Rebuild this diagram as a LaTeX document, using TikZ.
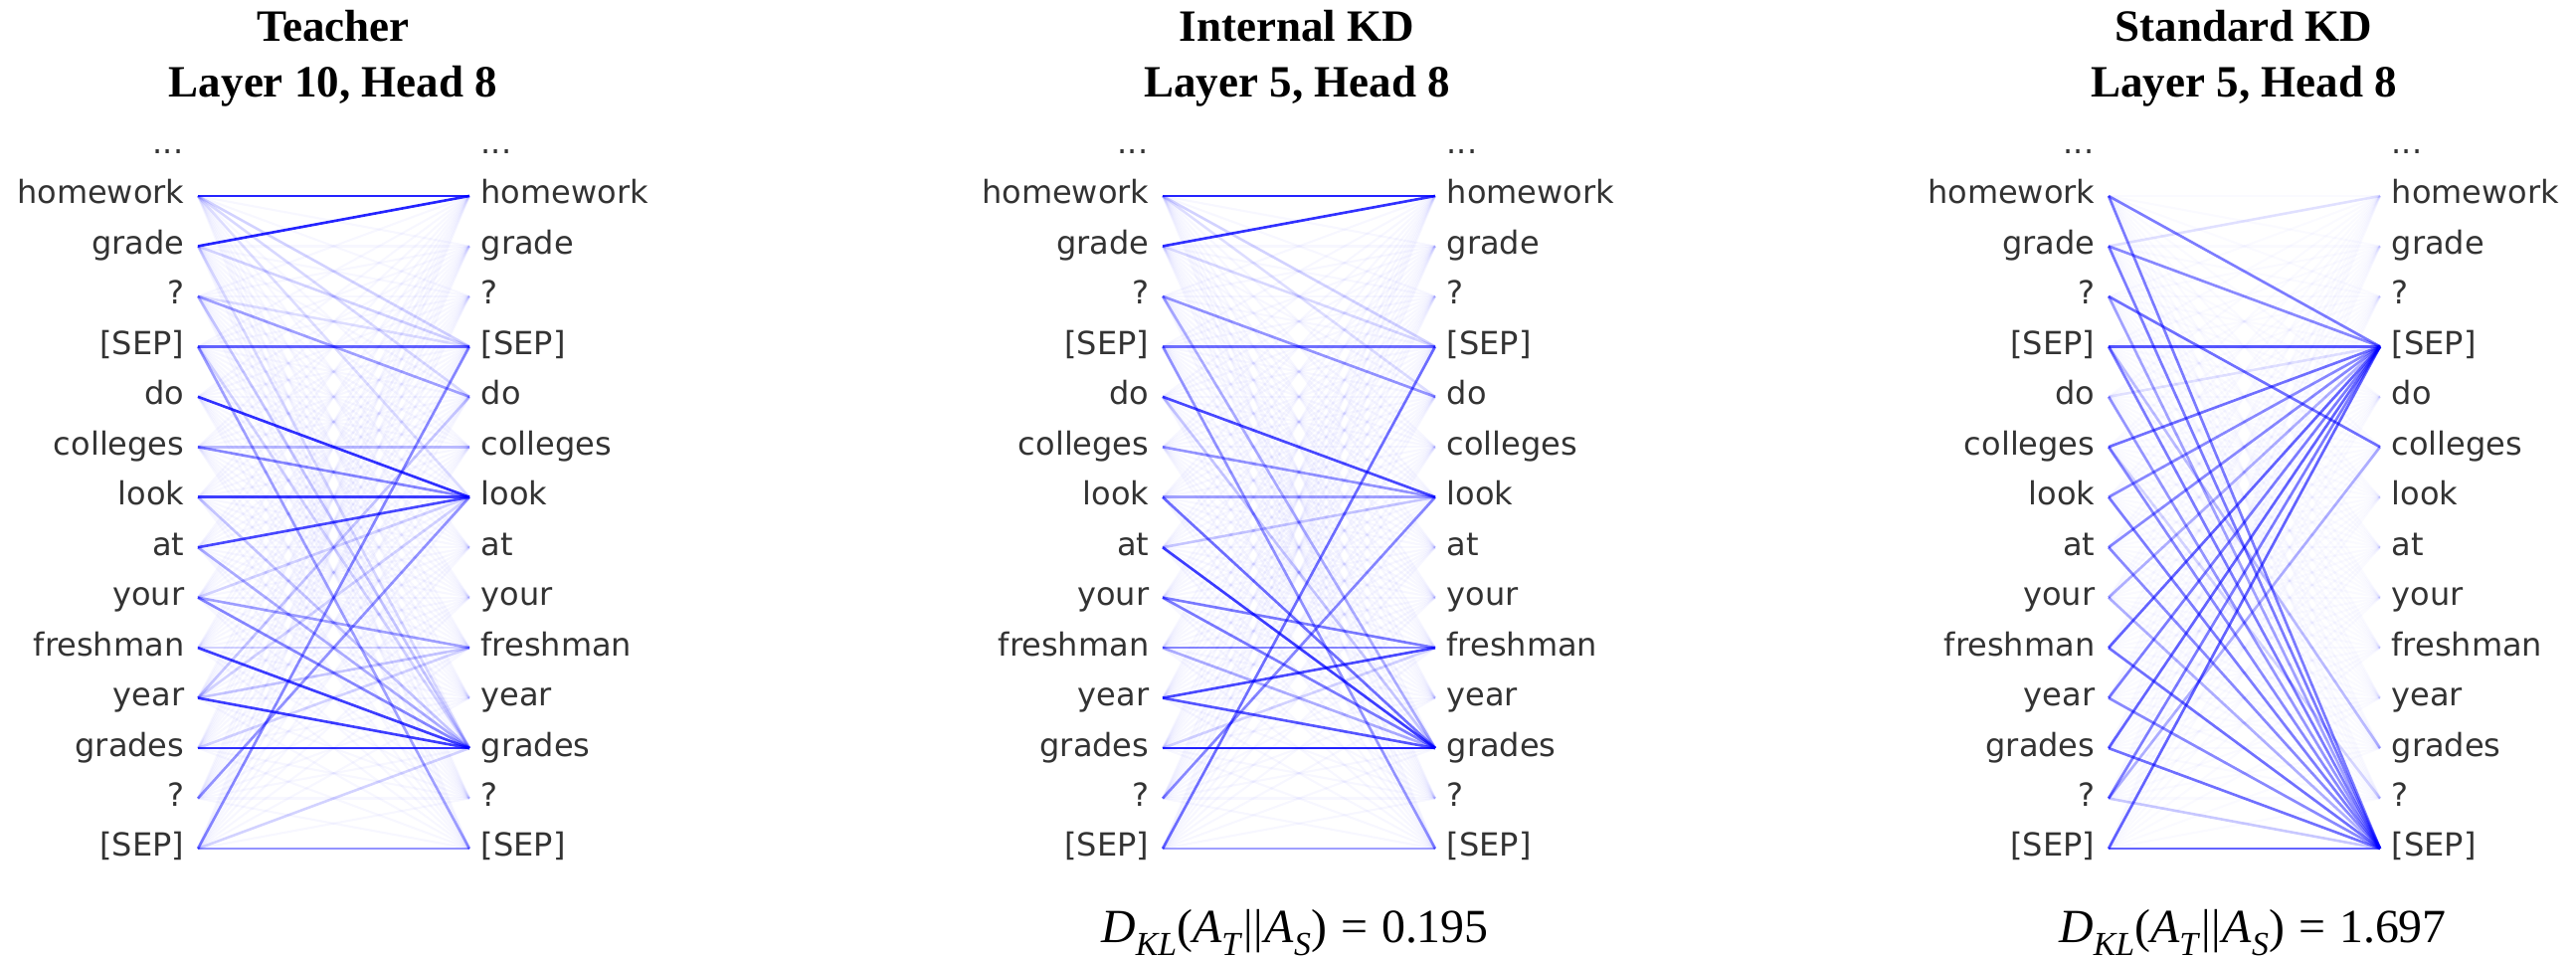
\documentclass[tikz,border=0pt]{standalone}
\usepackage{fontspec}
\setmainfont{Liberation Serif}
\newfontfamily\dejavu{DejaVu Sans}
\definecolor{labelgray}{RGB}{51,51,51}
\definecolor{attn}{RGB}{0,0,255}
\tikzset{
  tok/.style={font=\dejavu\fontsize{9.1}{11}\selectfont, text=labelgray, inner sep=0pt},
  ttl/.style={font=\fontsize{12.8}{15}\selectfont\bfseries, inner sep=0pt, anchor=base},
  kl/.style={font=\fontsize{13.6}{16}\selectfont, inner sep=0pt, anchor=base},
  att/.style={draw=attn, line width=0.75pt, draw opacity=#1},
  haze/.style={draw=attn, line width=0.6pt, draw opacity=#1},
}
\newcommand{\sbs}[1]{\raisebox{-0.28em}{\fontsize{9.6}{10}\selectfont\textit{#1}}}
\newcommand{\kld}[1]{\textit{D}\sbs{KL}(\textit{A}\sbs{T}\kern0.5pt||\kern0.5pt\textit{A}\sbs{S})\kern4pt=\kern4pt#1}
\begin{document}
\begin{tikzpicture}[x=0.01cm,y=-0.01cm]
\useasboundingbox (0,0) rectangle (2590,964);
\fill[white] (0,0) rectangle (2590,964);
% token columns
\foreach \p/\xs/\xe/\hz in {a/199/472/0.032, b/1169/1443/0.032, c/2120/2393/0.02} {
  \foreach \t [count=\i] in {homework,grade,?,{[SEP]},do,colleges,look,at,your,freshman,year,grades,?,{[SEP]}} {
    \pgfmathsetmacro\yy{197+(\i-1)*50.46}
    \coordinate (\p L\i) at (\xs,\yy);
    \coordinate (\p R\i) at (\xe,\yy);
    \node[tok, anchor=base east] (\p tl\i) at (\xs-13,\yy+8) {\t};
    \node[tok, anchor=base west] (\p tr\i) at (\xe+11,\yy+8) {\t};
  }
  \node[tok, anchor=base east] (\p dl) at (\xs-14,155) {...};
  \node[tok, anchor=base west] (\p dr) at (\xe+11,155) {...};
  \foreach \i in {1,...,14} {
    \foreach \j in {1,...,14} {
      \draw[haze=\hz] (\p L\i) -- (\p R\j);
    }
  }
}
% Teacher
\foreach \i/\j/\o in {1/1/0.85, 2/1/0.85, 1/4/0.15, 1/5/0.12, 1/7/0.1, 2/4/0.15, 2/12/0.12,
  3/5/0.35, 3/4/0.1, 3/12/0.2, 4/4/0.6, 4/14/0.35, 4/12/0.15, 5/7/0.8, 6/7/0.45, 6/6/0.25,
  7/7/0.75, 7/12/0.2, 8/7/0.7, 8/12/0.3, 9/10/0.35, 9/12/0.45, 9/7/0.15, 10/12/0.75, 10/10/0.15,
  11/12/0.75, 11/10/0.2, 11/7/0.15, 11/5/0.2, 12/12/0.8, 12/10/0.15, 13/7/0.4, 14/4/0.45,
  14/14/0.4, 14/12/0.15} {
  \draw[att=\o] (aL\i) -- (aR\j);
}
% Internal KD
\foreach \i/\j/\o in {1/1/0.85, 2/1/0.8, 1/4/0.15, 1/5/0.1, 2/4/0.12, 3/5/0.4, 3/12/0.3,
  4/4/0.55, 4/14/0.4, 5/7/0.7, 5/12/0.2, 6/7/0.4, 7/7/0.35, 7/12/0.55, 8/12/0.75, 8/7/0.2,
  9/10/0.5, 9/12/0.5, 10/10/0.45, 10/12/0.3, 11/10/0.7, 11/12/0.65, 12/12/0.85, 12/10/0.15,
  13/7/0.45, 14/4/0.55, 14/14/0.35} {
  \draw[att=\o] (bL\i) -- (bR\j);
}
% Standard KD
\foreach \i/\j/\o in {1/4/0.5, 1/14/0.5, 2/4/0.45, 2/14/0.5, 3/6/0.55, 3/14/0.35, 4/4/0.65,
  4/14/0.5, 5/14/0.4, 5/4/0.1, 6/4/0.55, 6/14/0.45, 7/4/0.45, 7/14/0.5, 8/4/0.45, 8/14/0.45,
  9/4/0.3, 9/14/0.3, 10/4/0.6, 10/14/0.55, 11/4/0.5, 11/14/0.45, 12/4/0.6, 12/14/0.55,
  13/4/0.5, 13/14/0.2, 14/4/0.6, 14/14/0.6, 2/1/0.1, 4/12/0.25, 13/6/0.3, 6/13/0.15} {
  \draw[att=\o] (cL\i) -- (cR\j);
}
% titles
\node[ttl] (t1a) at (335,42) {Teacher};
\node[ttl] (t1b) at (335,98) {Layer 10, Head 8};
\node[ttl] (t2a) at (1304,42) {Internal KD};
\node[ttl] (t2b) at (1304,98) {Layer 5, Head 8};
\node[ttl] (t3a) at (2256,42) {Standard KD};
\node[ttl] (t3b) at (2256,98) {Layer 5, Head 8};
% formulas
\node[kl] (f2) at (1302,947) {\kld{0.195}};
\node[kl] (f3) at (2265,947) {\kld{1.697}};
\end{tikzpicture}
\end{document}
